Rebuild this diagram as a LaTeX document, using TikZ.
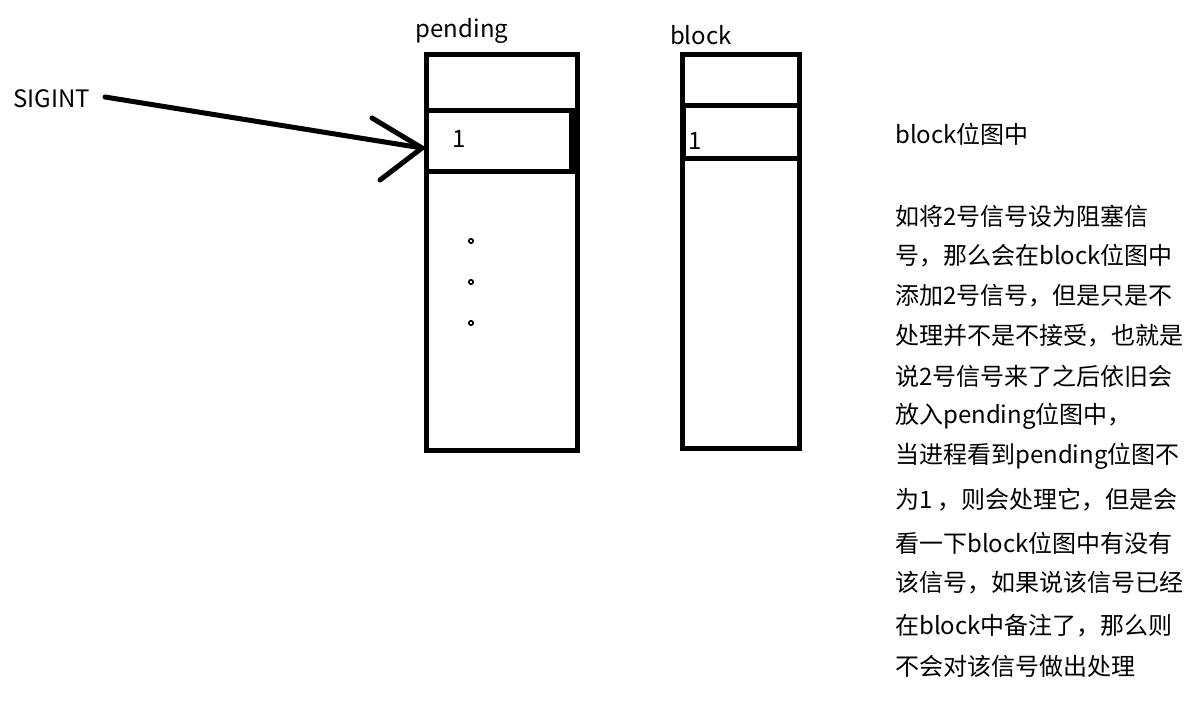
\documentclass[tikz,border=0pt]{standalone}
\usepackage{fontspec}
\setmainfont{Noto Sans CJK SC}
\begin{document}
\begin{tikzpicture}[x=1pt,y=-1pt,
  thick line/.style={line width=5pt},
  lbl/.style={inner sep=0pt,font=\fontsize{24}{24}\selectfont},
  txt/.style={inner sep=0pt,anchor=west,font=\fontsize{24}{24}\selectfont},
  dotc/.style={line width=1.6pt}]
\useasboundingbox[fill=white] (0,0) rectangle (1189,709);
% labels
\node[lbl] (pl) at (462,31) {pending};
\node[lbl] (bl) at (701,35) {block};
\node[lbl,anchor=west] (sig) at (13,99) {SIGINT};
% pending box
\draw[thick line] (426,55) rectangle (577,450);
\draw[thick line] (426,110) -- (577,110);
\draw[thick line] (426,171) -- (577,171);
\fill (569,110) rectangle (577,171);
\node[lbl] (p1) at (459,139) {1};
\draw[dotc] (471,241) circle (2.2);
\draw[dotc] (471,282) circle (2.2);
\draw[dotc] (471,323) circle (2.2);
% block box
\draw[thick line] (682,55) rectangle (799,448);
\draw[thick line] (682,105) -- (799,105);
\draw[thick line] (682,158) -- (799,158);
\draw[line width=2pt] (685,105) -- (685,158);
\node[lbl] (b1) at (695,141) {1};
% arrow
\coordinate (start) at (105,97);
\coordinate (tip) at (422,148);
\coordinate (bar1) at (372,118);
\coordinate (bar2) at (380,180);
\draw[thick line,line cap=round] (start) -- (tip);
\draw[thick line,line cap=round,line join=round] (bar1) -- (tip) -- (bar2);
% text
\node[txt] (t1) at (895,134) {block位图中};
\node[txt] (t2) at (895,216) {如将2号信号设为阻塞信};
\node[txt] (t3) at (895,256) {号，那么会在block位图中};
\node[txt] (t4) at (895,296) {添加2号信号，但是只是不};
\node[txt] (t5) at (895,336) {处理并不是不接受，也就是};
\node[txt] (t6) at (895,376) {说2号信号来了之后依旧会};
\node[txt] (t7) at (895,416) {放入pending位图中，};
\node[txt] (t8) at (895,456) {当进程看到pending位图不};
\node[txt] (t9) at (895,500) {为1 ，则会处理它，但是会};
\node[txt] (t10) at (895,543) {看一下block位图中有没有};
\node[txt] (t11) at (895,583) {该信号，如果说该信号已经};
\node[txt] (t12) at (895,626) {在block中备注了，那么则};
\node[txt] (t13) at (895,666) {不会对该信号做出处理};
\end{tikzpicture}
\end{document}
